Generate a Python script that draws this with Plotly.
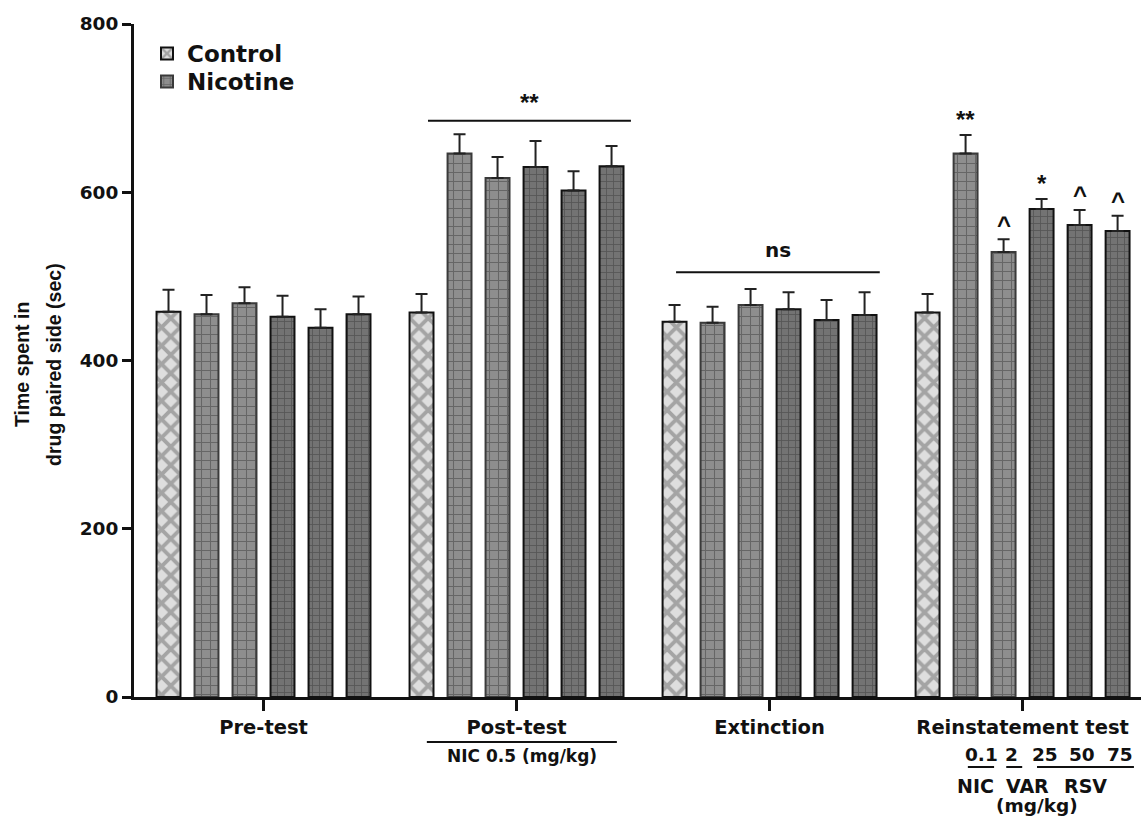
import plotly.graph_objects as go

# ---------------- data ----------------
groups = ["Pre-test", "Post-test", "Extinction", "Reinstatement test"]
control_mean = [458, 457, 446, 457]
control_sem = [26, 22, 20, 22]
nicotine_mean = [
    [455, 468, 452, 439, 455],
    [646, 617, 630, 602, 631],
    [445, 466, 461, 448, 454],
    [646, 529, 580, 561, 554],
]
nicotine_sem = [
    [23, 19, 25, 22, 21],
    [23, 25, 31, 23, 24],
    [19, 19, 20, 24, 27],
    [22, 15, 12, 18, 18],
]
reinstatement_doses = ["0.1", "2", "25", "50", "75"]
reinstatement_drugs = ["NIC", "VAR", "RSV"]
reinstatement_marks = ["**", "^", "*", "^", "^"]
y_ticks = [0, 200, 400, 600, 800]
y_title_lines = ["Time spent in", "drug paired side (sec)"]

# ---------------- layout helpers ----------------
STEP = 6.658          # distance between group starts (bar units)
W, H = 1141, 822
L, R, T, B = 134, 0, 24, 125
FONT_W = "DejaVu Sans, Verdana, sans-serif"
FONT_A = "Liberation Sans, Arial, Helvetica, sans-serif"
INK = "#111111"

def py2paper(py):
    return (H - B - py) / (H - T - B)

def px2paper(px):
    return (px - L) / (W - L - R)

def bfont(size, fam=FONT_W):
    return dict(size=size, family=fam, color=INK, weight="bold")

ctrl_x = [g * STEP for g in range(len(groups))]
nic_x, nic_y, nic_e = [], [], []
for g in range(len(groups)):
    for i, (m, e) in enumerate(zip(nicotine_mean[g], nicotine_sem[g])):
        nic_x.append(g * STEP + 1 + i)
        nic_y.append(m)
        nic_e.append(e)
n_per = len(nicotine_mean[0])

# pattern variants: first two nicotine bars of each group are lighter, larger bricks
nic_bg = [("#8e8e8e" if i < 2 else "#737373") for g in groups for i in range(n_per)]
nic_fg = [("#666666" if i < 2 else "#545454") for g in groups for i in range(n_per)]
nic_size = [(9 if i < 2 else 7) for g in groups for i in range(n_per)]
nic_line = [("#3a3a3a" if i < 2 else "#111111") for g in groups for i in range(n_per)]

fig = go.Figure()
fig.add_trace(go.Bar(
    x=ctrl_x, y=control_mean, name="Control", width=0.63,
    marker=dict(color="#dcdcdc",
                line=dict(color=INK, width=2),
                pattern=dict(shape="x", fgcolor="#a4a4a4", bgcolor="#dedede",
                             size=13, solidity=0.5, fillmode="replace")),
    error_y=dict(type="data", array=control_sem, arrayminus=[0] * len(control_sem),
                 symmetric=False, color="#222222", thickness=2, width=6),
    legend="legend",
))
fig.add_trace(go.Bar(
    x=nic_x, y=nic_y, name="Nicotine", width=0.63,
    marker=dict(color="#7e7e7e",
                line=dict(color=nic_line, width=2),
                pattern=dict(shape="+", fgcolor=nic_fg, bgcolor=nic_bg,
                             size=nic_size, solidity=0.22, fillmode="replace")),
    error_y=dict(type="data", array=nic_e, arrayminus=[0] * len(nic_e),
                 symmetric=False, color="#222222", thickness=2, width=6),
    legend="legend2",
))

group_centers = [g * STEP + 2.5 for g in range(len(groups))]

annotations = []
shapes = []

# significance bars above groups
post_x0, post_x1 = STEP + 0.17, STEP + 5.51
ext_x0, ext_x1 = 2 * STEP + 0.04, 2 * STEP + 5.4
shapes.append(dict(type="line", xref="x", yref="y", x0=post_x0, x1=post_x1, y0=685, y1=685,
                   line=dict(color=INK, width=2)))
shapes.append(dict(type="line", xref="x", yref="y", x0=ext_x0, x1=ext_x1, y0=505, y1=505,
                   line=dict(color=INK, width=2)))
annotations.append(dict(x=(post_x0 + post_x1) / 2, y=707, xref="x", yref="y", text="**",
                        xanchor="center", yanchor="middle",
                        showarrow=False, font=bfont(24, FONT_A)))
annotations.append(dict(x=(ext_x0 + ext_x1) / 2, y=531, xref="x", yref="y", text="ns",
                        xanchor="center", yanchor="middle",
                        showarrow=False, font=bfont(20)))

# reinstatement markers
g4 = 3
for i, mk in enumerate(reinstatement_marks):
    top = nicotine_mean[g4][i] + nicotine_sem[g4][i]
    off = 19 if "*" in mk else 18
    annotations.append(dict(x=g4 * STEP + 1 + i, y=top + off, xref="x", yref="y", text=mk,
                            xanchor="center", yanchor="middle",
                            showarrow=False, font=bfont(24, FONT_A)))

# post-test sub label
shapes.append(dict(type="line", xref="x", yref="paper", x0=STEP + 0.14, x1=STEP + 5.14,
                   y0=py2paper(742), y1=py2paper(742), line=dict(color=INK, width=2)))
annotations.append(dict(x=STEP + 2.64, y=py2paper(756), xref="x", yref="paper",
                        xanchor="center", yanchor="middle",
                        text="NIC 0.5 (mg/kg)", showarrow=False, font=bfont(17)))

# reinstatement dose labels
dose_rel = [1.41, 2.22, 3.09, 4.07, 5.07]
for d, rx in zip(reinstatement_doses, dose_rel):
    annotations.append(dict(x=g4 * STEP + rx, y=py2paper(754), xref="x", yref="paper", text=d,
                            xanchor="center", yanchor="middle",
                            showarrow=False, font=bfont(18.5)))
for (a, b) in [(1.06, 1.75), (2.07, 2.49), (2.88, 5.43)]:
    shapes.append(dict(type="line", xref="x", yref="paper", x0=g4 * STEP + a, x1=g4 * STEP + b,
                       y0=py2paper(767), y1=py2paper(767), line=dict(color=INK, width=2)))
drug_rel = [1.25, 2.62, 4.15]
for d, rx in zip(reinstatement_drugs, drug_rel):
    annotations.append(dict(x=g4 * STEP + rx, y=py2paper(786), xref="x", yref="paper", text=d,
                            xanchor="center", yanchor="middle",
                            showarrow=False, font=bfont(19)))
annotations.append(dict(x=g4 * STEP + 2.88, y=py2paper(805), xref="x", yref="paper",
                        xanchor="center", yanchor="middle",
                        text="(mg/kg)", showarrow=False, font=bfont(18.5)))

# y-axis title (two lines)
for line_txt, lx in zip(y_title_lines, [22, 54]):
    annotations.append(dict(x=px2paper(lx), y=py2paper(365), xref="paper", yref="paper",
                            xanchor="center", yanchor="middle",
                            text=line_txt, textangle=-90, showarrow=False,
                            font=bfont(19.5, FONT_A)))

fig.update_layout(
    width=W, height=H,
    margin=dict(l=L, r=R, t=T, b=B, autoexpand=False),
    plot_bgcolor="white", paper_bgcolor="white",
    barmode="overlay",
    showlegend=True,
    legend=dict(x=px2paper(147), y=py2paper(32), xanchor="left", yanchor="top",
                font=bfont(23), bgcolor="rgba(0,0,0,0)", itemclick=False),
    legend2=dict(x=px2paper(147), y=py2paper(60), xanchor="left", yanchor="top",
                 font=bfont(23), bgcolor="rgba(0,0,0,0)", itemclick=False),
    annotations=annotations,
    shapes=shapes,
    xaxis=dict(range=[-0.908, 25.59], showgrid=False, zeroline=False,
               showline=True, linecolor=INK, linewidth=3,
               ticks="outside", ticklen=11, tickwidth=3, tickcolor=INK,
               tickvals=group_centers, ticktext=groups,
               tickfont=bfont(19.5), fixedrange=True),
    yaxis=dict(range=[0, 800], showgrid=False, zeroline=False,
               showline=True, linecolor=INK, linewidth=3,
               ticks="outside", ticklen=9, tickwidth=3, tickcolor=INK,
               tickvals=y_ticks, tickfont=bfont(18.5), fixedrange=True),
)

fig.write_html("out.html", config={"displayModeBar": False},
               post_script="document.body.style.margin='0px';")
